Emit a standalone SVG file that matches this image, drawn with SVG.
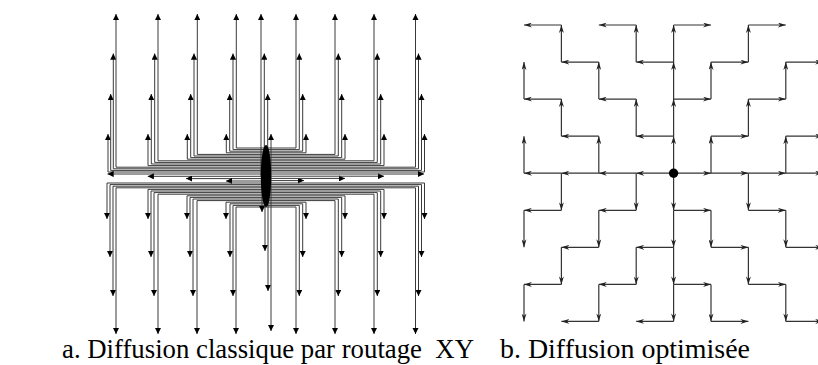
<svg xmlns="http://www.w3.org/2000/svg" width="818" height="365" viewBox="0 0 818 365">
<defs>
<marker id="ma" viewBox="0 0 6 6" refX="6" refY="3" markerWidth="6.5" markerHeight="6.2" orient="auto" markerUnits="userSpaceOnUse"><path d="M0,0 L6,3 L0,6 Z" fill="#000"/></marker>
<marker id="mb" viewBox="0 0 8 5" refX="8" refY="2.5" markerWidth="8" markerHeight="5" orient="auto" markerUnits="userSpaceOnUse"><path d="M0,0 L8,2.5 L0,5 L2.5,2.5 Z" fill="#222"/></marker>
<style>
.la{fill:none;stroke:#3a3a3a;stroke-width:1;marker-end:url(#ma)}
.lb{fill:none;stroke:#333;stroke-width:1.2;marker-end:url(#mb)}
.cap{font-family:"Liberation Serif","Times New Roman",serif;font-size:27px;fill:#000}
</style>
</defs>
<rect width="818" height="365" fill="#fff"/>
<g id="connectors">
<g id="conn-a">
<path class="la" d="M266 172H108V134"/>
<path class="la" d="M266 170.4H110.7V94"/>
<path class="la" d="M266 168.8H113.3V53.5"/>
<path class="la" d="M266 167.2H116V14"/>
<path class="la" d="M266 165.6H148V134"/>
<path class="la" d="M266 164H151.3V94"/>
<path class="la" d="M266 162.4H154.7V53.5"/>
<path class="la" d="M266 160.8H158V14"/>
<path class="la" d="M266 159.2H187.3V134"/>
<path class="la" d="M266 157.6H190.7V94"/>
<path class="la" d="M266 156H194V53.5"/>
<path class="la" d="M266 154.4H197.3V14"/>
<path class="la" d="M266 152.8H226.3V134"/>
<path class="la" d="M266 151.2H229.7V94"/>
<path class="la" d="M266 149.6H233V53.5"/>
<path class="la" d="M266 148H236.3V14"/>
<path class="la" d="M266 172H424.5V134"/>
<path class="la" d="M266 170.4H421.5V94"/>
<path class="la" d="M266 168.8H418.5V53.5"/>
<path class="la" d="M266 167.2H415.5V14"/>
<path class="la" d="M266 165.6H384V134"/>
<path class="la" d="M266 164H380.7V94"/>
<path class="la" d="M266 162.4H377.3V53.5"/>
<path class="la" d="M266 160.8H374V14"/>
<path class="la" d="M266 159.2H345V134"/>
<path class="la" d="M266 157.6H341.7V94"/>
<path class="la" d="M266 156H338.3V53.5"/>
<path class="la" d="M266 154.4H335V14"/>
<path class="la" d="M266 152.8H306V134"/>
<path class="la" d="M266 151.2H302.7V94"/>
<path class="la" d="M266 149.6H299.3V53.5"/>
<path class="la" d="M266 148H296V14"/>
<path class="la" d="M261 176V14"/>
<path class="la" d="M264.3 176V53.5"/>
<path class="la" d="M267.7 176V94"/>
<path class="la" d="M271 176V134"/>
<path class="la" d="M266 174H107.5"/>
<path class="la" d="M266 176.3H147.7"/>
<path class="la" d="M266 178.6H186"/>
<path class="la" d="M266 181H226"/>
<path class="la" d="M266 180.6H304"/>
<path class="la" d="M266 178.4H345"/>
<path class="la" d="M266 176.2H384"/>
<path class="la" d="M266 174H424"/>
<path class="la" d="M266 183H107V219"/>
<path class="la" d="M266 184.6H110V257"/>
<path class="la" d="M266 186.2H113V296"/>
<path class="la" d="M266 187.8H116V334"/>
<path class="la" d="M266 189.4H148V219"/>
<path class="la" d="M266 191H151V257"/>
<path class="la" d="M266 192.6H154V296"/>
<path class="la" d="M266 194.2H158V334"/>
<path class="la" d="M266 195.8H187V219"/>
<path class="la" d="M266 197.4H190V257"/>
<path class="la" d="M266 199H193V296"/>
<path class="la" d="M266 200.6H197V334"/>
<path class="la" d="M266 202.2H226V219"/>
<path class="la" d="M266 203.8H230V257"/>
<path class="la" d="M266 205.4H233V296"/>
<path class="la" d="M266 207H236V334"/>
<path class="la" d="M266 183H424.5V219"/>
<path class="la" d="M266 184.6H421.5V257"/>
<path class="la" d="M266 186.2H418.5V296"/>
<path class="la" d="M266 187.8H415.5V334"/>
<path class="la" d="M266 189.4H384V219"/>
<path class="la" d="M266 191H380.7V257"/>
<path class="la" d="M266 192.6H377.3V296"/>
<path class="la" d="M266 194.2H374V334"/>
<path class="la" d="M266 195.8H345V219"/>
<path class="la" d="M266 197.4H341.7V257"/>
<path class="la" d="M266 199H338.3V296"/>
<path class="la" d="M266 200.6H335V334"/>
<path class="la" d="M266 202.2H306V219"/>
<path class="la" d="M266 203.8H302.7V257"/>
<path class="la" d="M266 205.4H299.3V296"/>
<path class="la" d="M266 207H296V334"/>
<path class="la" d="M262 176V212"/>
<path class="la" d="M265 176V251"/>
<path class="la" d="M268 176V291"/>
<path class="la" d="M271 176V331"/>
</g>
<g id="conn-b">
<line class="lb" x1="673.6" y1="173.2" x2="636.2" y2="173.2"/>
<line class="lb" x1="636.2" y1="173.2" x2="598.8" y2="173.2"/>
<line class="lb" x1="598.8" y1="173.2" x2="561.4" y2="173.2"/>
<line class="lb" x1="561.4" y1="173.2" x2="524" y2="173.2"/>
<line class="lb" x1="673.6" y1="173.2" x2="711" y2="173.2"/>
<line class="lb" x1="711" y1="173.2" x2="748.4" y2="173.2"/>
<line class="lb" x1="748.4" y1="173.2" x2="785.8" y2="173.2"/>
<line class="lb" x1="785.8" y1="173.2" x2="823.2" y2="173.2"/>
<line class="lb" x1="673.6" y1="173.2" x2="673.6" y2="136.2"/>
<line class="lb" x1="673.6" y1="136.2" x2="673.6" y2="99.1"/>
<line class="lb" x1="673.6" y1="99.1" x2="673.6" y2="62.1"/>
<line class="lb" x1="673.6" y1="62.1" x2="673.6" y2="25"/>
<line class="lb" x1="673.6" y1="173.2" x2="673.6" y2="210.3"/>
<line class="lb" x1="673.6" y1="210.3" x2="673.6" y2="247.3"/>
<line class="lb" x1="673.6" y1="247.3" x2="673.6" y2="284.4"/>
<line class="lb" x1="673.6" y1="284.4" x2="673.6" y2="321.4"/>
<line class="lb" x1="673.6" y1="62.1" x2="636.2" y2="62.1"/>
<line class="lb" x1="636.2" y1="62.1" x2="636.2" y2="25"/>
<line class="lb" x1="636.2" y1="25" x2="598.8" y2="25"/>
<line class="lb" x1="673.6" y1="136.2" x2="636.2" y2="136.2"/>
<line class="lb" x1="636.2" y1="136.2" x2="636.2" y2="99.1"/>
<line class="lb" x1="636.2" y1="99.1" x2="598.8" y2="99.1"/>
<line class="lb" x1="598.8" y1="99.1" x2="598.8" y2="62.1"/>
<line class="lb" x1="598.8" y1="62.1" x2="561.4" y2="62.1"/>
<line class="lb" x1="561.4" y1="62.1" x2="561.4" y2="25"/>
<line class="lb" x1="561.4" y1="25" x2="524" y2="25"/>
<line class="lb" x1="598.8" y1="173.2" x2="598.8" y2="136.2"/>
<line class="lb" x1="598.8" y1="136.2" x2="561.4" y2="136.2"/>
<line class="lb" x1="561.4" y1="136.2" x2="561.4" y2="99.1"/>
<line class="lb" x1="561.4" y1="99.1" x2="524" y2="99.1"/>
<line class="lb" x1="524" y1="99.1" x2="524" y2="62.1"/>
<line class="lb" x1="524" y1="173.2" x2="524" y2="136.2"/>
<line class="lb" x1="673.6" y1="25" x2="711" y2="25"/>
<line class="lb" x1="673.6" y1="99.1" x2="711" y2="99.1"/>
<line class="lb" x1="711" y1="99.1" x2="711" y2="62.1"/>
<line class="lb" x1="711" y1="62.1" x2="748.4" y2="62.1"/>
<line class="lb" x1="748.4" y1="62.1" x2="748.4" y2="25"/>
<line class="lb" x1="748.4" y1="25" x2="785.8" y2="25"/>
<line class="lb" x1="711" y1="173.2" x2="711" y2="136.2"/>
<line class="lb" x1="711" y1="136.2" x2="748.4" y2="136.2"/>
<line class="lb" x1="748.4" y1="136.2" x2="748.4" y2="99.1"/>
<line class="lb" x1="748.4" y1="99.1" x2="785.8" y2="99.1"/>
<line class="lb" x1="785.8" y1="99.1" x2="785.8" y2="62.1"/>
<line class="lb" x1="785.8" y1="62.1" x2="823.2" y2="62.1"/>
<line class="lb" x1="785.8" y1="173.2" x2="785.8" y2="136.2"/>
<line class="lb" x1="785.8" y1="136.2" x2="823.2" y2="136.2"/>
<line class="lb" x1="561.4" y1="173.2" x2="561.4" y2="210.3"/>
<line class="lb" x1="561.4" y1="210.3" x2="524" y2="210.3"/>
<line class="lb" x1="524" y1="210.3" x2="524" y2="247.3"/>
<line class="lb" x1="636.2" y1="173.2" x2="636.2" y2="210.3"/>
<line class="lb" x1="636.2" y1="210.3" x2="598.8" y2="210.3"/>
<line class="lb" x1="598.8" y1="210.3" x2="598.8" y2="247.3"/>
<line class="lb" x1="598.8" y1="247.3" x2="561.4" y2="247.3"/>
<line class="lb" x1="561.4" y1="247.3" x2="561.4" y2="284.4"/>
<line class="lb" x1="561.4" y1="284.4" x2="524" y2="284.4"/>
<line class="lb" x1="524" y1="284.4" x2="524" y2="321.4"/>
<line class="lb" x1="673.6" y1="247.3" x2="636.2" y2="247.3"/>
<line class="lb" x1="636.2" y1="247.3" x2="636.2" y2="284.4"/>
<line class="lb" x1="636.2" y1="284.4" x2="598.8" y2="284.4"/>
<line class="lb" x1="598.8" y1="284.4" x2="598.8" y2="321.4"/>
<line class="lb" x1="598.8" y1="321.4" x2="561.4" y2="321.4"/>
<line class="lb" x1="673.6" y1="321.4" x2="636.2" y2="321.4"/>
<line class="lb" x1="748.4" y1="173.2" x2="748.4" y2="210.3"/>
<line class="lb" x1="748.4" y1="210.3" x2="785.8" y2="210.3"/>
<line class="lb" x1="785.8" y1="210.3" x2="785.8" y2="247.3"/>
<line class="lb" x1="785.8" y1="247.3" x2="823.2" y2="247.3"/>
<line class="lb" x1="673.6" y1="210.3" x2="711" y2="210.3"/>
<line class="lb" x1="711" y1="210.3" x2="711" y2="247.3"/>
<line class="lb" x1="711" y1="247.3" x2="748.4" y2="247.3"/>
<line class="lb" x1="748.4" y1="247.3" x2="748.4" y2="284.4"/>
<line class="lb" x1="748.4" y1="284.4" x2="785.8" y2="284.4"/>
<line class="lb" x1="785.8" y1="284.4" x2="785.8" y2="321.4"/>
<line class="lb" x1="785.8" y1="321.4" x2="823.2" y2="321.4"/>
<line class="lb" x1="673.6" y1="284.4" x2="711" y2="284.4"/>
<line class="lb" x1="711" y1="284.4" x2="711" y2="321.4"/>
<line class="lb" x1="711" y1="321.4" x2="748.4" y2="321.4"/>
</g>
</g>
<g id="source-a"><ellipse cx="266" cy="176" rx="5.2" ry="31" fill="#000"/></g>
<g id="source-b"><circle cx="673.6" cy="173.2" r="4.7" fill="#000"/></g>
<g id="captions">
<text class="cap" x="62" y="358" xml:space="preserve" textLength="412" lengthAdjust="spacingAndGlyphs">a. Diffusion classique par routage  XY</text>
<text class="cap" x="500" y="358" textLength="250" lengthAdjust="spacingAndGlyphs">b. Diffusion optimisée</text>
</g>
</svg>
